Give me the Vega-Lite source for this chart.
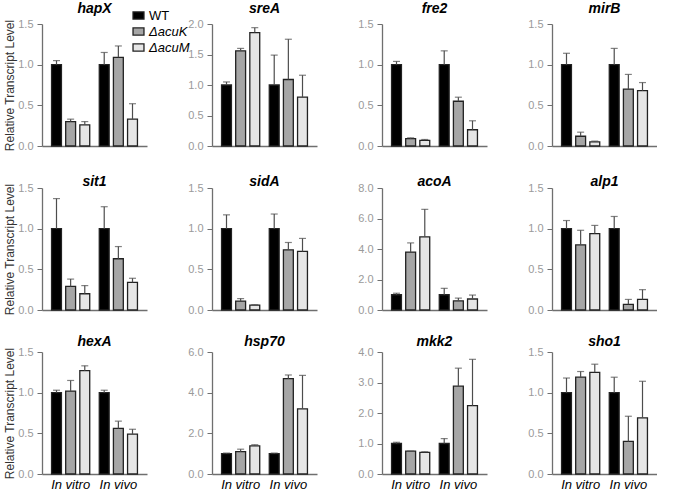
{
  "$schema": "https://vega.github.io/schema/vega-lite/v6.json",
  "padding": {"left": 3, "top": 2, "right": 0, "bottom": 0},
  "bounds": "flush",
  "spacing": {"row": 42, "column": 65},
  "columns": 4,
  "data": {"values": [
    {"gene": "hapX", "cond": "In vitro", "strain": "WT", "value": 1.0, "upper": 1.05},
    {"gene": "hapX", "cond": "In vitro", "strain": "ΔacuK", "value": 0.30, "upper": 0.33},
    {"gene": "hapX", "cond": "In vitro", "strain": "ΔacuM", "value": 0.26, "upper": 0.30},
    {"gene": "hapX", "cond": "In vivo", "strain": "WT", "value": 1.0, "upper": 1.15},
    {"gene": "hapX", "cond": "In vivo", "strain": "ΔacuK", "value": 1.09, "upper": 1.23},
    {"gene": "hapX", "cond": "In vivo", "strain": "ΔacuM", "value": 0.33, "upper": 0.52},
    {"gene": "sreA", "cond": "In vitro", "strain": "WT", "value": 1.0, "upper": 1.05},
    {"gene": "sreA", "cond": "In vitro", "strain": "ΔacuK", "value": 1.56, "upper": 1.60},
    {"gene": "sreA", "cond": "In vitro", "strain": "ΔacuM", "value": 1.86, "upper": 1.94},
    {"gene": "sreA", "cond": "In vivo", "strain": "WT", "value": 1.0, "upper": 1.49},
    {"gene": "sreA", "cond": "In vivo", "strain": "ΔacuK", "value": 1.09, "upper": 1.75},
    {"gene": "sreA", "cond": "In vivo", "strain": "ΔacuM", "value": 0.80, "upper": 1.16},
    {"gene": "fre2", "cond": "In vitro", "strain": "WT", "value": 1.0, "upper": 1.04},
    {"gene": "fre2", "cond": "In vitro", "strain": "ΔacuK", "value": 0.09, "upper": 0.10},
    {"gene": "fre2", "cond": "In vitro", "strain": "ΔacuM", "value": 0.07, "upper": 0.08},
    {"gene": "fre2", "cond": "In vivo", "strain": "WT", "value": 1.0, "upper": 1.17},
    {"gene": "fre2", "cond": "In vivo", "strain": "ΔacuK", "value": 0.55, "upper": 0.60},
    {"gene": "fre2", "cond": "In vivo", "strain": "ΔacuM", "value": 0.20, "upper": 0.31},
    {"gene": "mirB", "cond": "In vitro", "strain": "WT", "value": 1.0, "upper": 1.14},
    {"gene": "mirB", "cond": "In vitro", "strain": "ΔacuK", "value": 0.12, "upper": 0.17},
    {"gene": "mirB", "cond": "In vitro", "strain": "ΔacuM", "value": 0.05, "upper": 0.06},
    {"gene": "mirB", "cond": "In vivo", "strain": "WT", "value": 1.0, "upper": 1.20},
    {"gene": "mirB", "cond": "In vivo", "strain": "ΔacuK", "value": 0.70, "upper": 0.88},
    {"gene": "mirB", "cond": "In vivo", "strain": "ΔacuM", "value": 0.68, "upper": 0.78},
    {"gene": "sit1", "cond": "In vitro", "strain": "WT", "value": 1.0, "upper": 1.37},
    {"gene": "sit1", "cond": "In vitro", "strain": "ΔacuK", "value": 0.29, "upper": 0.38},
    {"gene": "sit1", "cond": "In vitro", "strain": "ΔacuM", "value": 0.20, "upper": 0.30},
    {"gene": "sit1", "cond": "In vivo", "strain": "WT", "value": 1.0, "upper": 1.27},
    {"gene": "sit1", "cond": "In vivo", "strain": "ΔacuK", "value": 0.63, "upper": 0.78},
    {"gene": "sit1", "cond": "In vivo", "strain": "ΔacuM", "value": 0.34, "upper": 0.39},
    {"gene": "sidA", "cond": "In vitro", "strain": "WT", "value": 1.0, "upper": 1.17},
    {"gene": "sidA", "cond": "In vitro", "strain": "ΔacuK", "value": 0.11, "upper": 0.14},
    {"gene": "sidA", "cond": "In vitro", "strain": "ΔacuM", "value": 0.06, "upper": 0.065},
    {"gene": "sidA", "cond": "In vivo", "strain": "WT", "value": 1.0, "upper": 1.18},
    {"gene": "sidA", "cond": "In vivo", "strain": "ΔacuK", "value": 0.74, "upper": 0.83},
    {"gene": "sidA", "cond": "In vivo", "strain": "ΔacuM", "value": 0.72, "upper": 0.88},
    {"gene": "acoA", "cond": "In vitro", "strain": "WT", "value": 1.0, "upper": 1.1},
    {"gene": "acoA", "cond": "In vitro", "strain": "ΔacuK", "value": 3.8, "upper": 4.4},
    {"gene": "acoA", "cond": "In vitro", "strain": "ΔacuM", "value": 4.8, "upper": 6.6},
    {"gene": "acoA", "cond": "In vivo", "strain": "WT", "value": 1.0, "upper": 1.42},
    {"gene": "acoA", "cond": "In vivo", "strain": "ΔacuK", "value": 0.6, "upper": 0.78},
    {"gene": "acoA", "cond": "In vivo", "strain": "ΔacuM", "value": 0.72, "upper": 0.98},
    {"gene": "alp1", "cond": "In vitro", "strain": "WT", "value": 1.0, "upper": 1.10},
    {"gene": "alp1", "cond": "In vitro", "strain": "ΔacuK", "value": 0.80, "upper": 0.98},
    {"gene": "alp1", "cond": "In vitro", "strain": "ΔacuM", "value": 0.94, "upper": 1.04},
    {"gene": "alp1", "cond": "In vivo", "strain": "WT", "value": 1.0, "upper": 1.15},
    {"gene": "alp1", "cond": "In vivo", "strain": "ΔacuK", "value": 0.07, "upper": 0.13},
    {"gene": "alp1", "cond": "In vivo", "strain": "ΔacuM", "value": 0.13, "upper": 0.25},
    {"gene": "hexA", "cond": "In vitro", "strain": "WT", "value": 1.0, "upper": 1.03},
    {"gene": "hexA", "cond": "In vitro", "strain": "ΔacuK", "value": 1.02, "upper": 1.15},
    {"gene": "hexA", "cond": "In vitro", "strain": "ΔacuM", "value": 1.27, "upper": 1.33},
    {"gene": "hexA", "cond": "In vivo", "strain": "WT", "value": 1.0, "upper": 1.03},
    {"gene": "hexA", "cond": "In vivo", "strain": "ΔacuK", "value": 0.56, "upper": 0.65},
    {"gene": "hexA", "cond": "In vivo", "strain": "ΔacuM", "value": 0.49, "upper": 0.55},
    {"gene": "hsp70", "cond": "In vitro", "strain": "WT", "value": 1.0, "upper": 1.03},
    {"gene": "hsp70", "cond": "In vitro", "strain": "ΔacuK", "value": 1.1, "upper": 1.22},
    {"gene": "hsp70", "cond": "In vitro", "strain": "ΔacuM", "value": 1.38, "upper": 1.44},
    {"gene": "hsp70", "cond": "In vivo", "strain": "WT", "value": 1.0, "upper": 1.03},
    {"gene": "hsp70", "cond": "In vivo", "strain": "ΔacuK", "value": 4.69, "upper": 4.87},
    {"gene": "hsp70", "cond": "In vivo", "strain": "ΔacuM", "value": 3.2, "upper": 4.85},
    {"gene": "mkk2", "cond": "In vitro", "strain": "WT", "value": 1.0, "upper": 1.04},
    {"gene": "mkk2", "cond": "In vitro", "strain": "ΔacuK", "value": 0.75, "upper": 0.75},
    {"gene": "mkk2", "cond": "In vitro", "strain": "ΔacuM", "value": 0.71, "upper": 0.73},
    {"gene": "mkk2", "cond": "In vivo", "strain": "WT", "value": 1.0, "upper": 1.16},
    {"gene": "mkk2", "cond": "In vivo", "strain": "ΔacuK", "value": 2.88, "upper": 3.47},
    {"gene": "mkk2", "cond": "In vivo", "strain": "ΔacuM", "value": 2.24, "upper": 3.76},
    {"gene": "sho1", "cond": "In vitro", "strain": "WT", "value": 1.0, "upper": 1.18},
    {"gene": "sho1", "cond": "In vitro", "strain": "ΔacuK", "value": 1.19, "upper": 1.26},
    {"gene": "sho1", "cond": "In vitro", "strain": "ΔacuM", "value": 1.25, "upper": 1.35},
    {"gene": "sho1", "cond": "In vivo", "strain": "WT", "value": 1.0, "upper": 1.19},
    {"gene": "sho1", "cond": "In vivo", "strain": "ΔacuK", "value": 0.40, "upper": 0.71},
    {"gene": "sho1", "cond": "In vivo", "strain": "ΔacuM", "value": 0.69, "upper": 1.14}
  ]},
  "config": {
    "view": {"stroke": null},
    "font": "Liberation Sans",
    "range": {"category": ["#000000", "#a6a6a6", "#e6e6e6"]},
    "scale": {"bandPaddingInner": 0.26, "bandPaddingOuter": 0.03, "offsetBandPaddingInner": 0.3, "offsetBandPaddingOuter": 0},
    "title": {"fontSize": 14, "fontStyle": "italic", "fontWeight": "bold", "color": "#000000"},
    "bar": {"stroke": "#222222", "strokeWidth": 1.3},
    "rule": {"color": "#4d4d4d", "strokeWidth": 1.2},
    "tick": {"color": "#4d4d4d", "thickness": 1.2, "size": 7},
    "axis": {"grid": false, "domainColor": "#6f6f6f", "tickColor": "#6f6f6f", "domainWidth": 1.3},
    "axisX": {"ticks": false, "labelAngle": 0},
    "axisY": {"format": ".1f", "tickSize": 5, "labelPadding": 4, "labelColor": "#9a9a9a", "labelFontSize": 11, "titleFontSize": 12, "titleFontWeight": "normal", "titleColor": "#333333", "titlePadding": 1},
    "legend": {"orient": "none", "legendX": 90, "legendY": -15, "title": null, "symbolType": "M-1,-0.65H1V0.65H-1Z", "symbolSize": 120, "symbolStrokeColor": "#222222", "symbolStrokeWidth": 1.3, "symbolOpacity": 1, "labelFontSize": 13, "labelColor": "#000000", "labelOffset": 4, "rowPadding": 2}
  },
  "concat": [
    {"title": {"text": "hapX", "offset": 2}, "width": 105, "height": 122,
     "transform": [{"filter": "datum.gene === 'hapX'"}],
     "encoding": {"x": {"field": "cond", "type": "nominal", "axis": {"title": null, "labels": false}},
                  "xOffset": {"field": "strain", "type": "nominal", "sort": ["WT", "ΔacuK", "ΔacuM"]},
                  "y": {"field": "value", "type": "quantitative", "scale": {"domain": [0, 1.5]}, "axis": {"values": [0, 0.5, 1, 1.5], "title": "Relative Transcript Level"}}},
     "layer": [
       {"mark": "bar", "encoding": {"color": {"field": "strain", "type": "nominal", "sort": ["WT", "ΔacuK", "ΔacuM"],
           "legend": {"orient": "none", "legendX": 90, "legendY": -15, "title": null, "labelFontStyle": {"expr": "datum.label === 'WT' ? 'normal' : 'italic'"}}}}},
       {"mark": "rule", "encoding": {"y2": {"field": "upper"}}},
       {"mark": "tick", "encoding": {"y": {"field": "upper", "type": "quantitative", "axis": {"values": [0, 0.5, 1, 1.5], "title": "Relative Transcript Level"}}}}
     ]},
    {"title": {"text": "sreA", "offset": 2}, "width": 105, "height": 122,
     "transform": [{"filter": "datum.gene === 'sreA'"}],
     "encoding": {"x": {"field": "cond", "type": "nominal", "axis": {"title": null, "labels": false}},
                  "xOffset": {"field": "strain", "type": "nominal", "sort": ["WT", "ΔacuK", "ΔacuM"]},
                  "y": {"field": "value", "type": "quantitative", "scale": {"domain": [0, 2]}, "axis": {"values": [0, 0.5, 1, 1.5, 2], "title": null}}},
     "layer": [
       {"mark": "bar", "encoding": {"color": {"field": "strain", "type": "nominal", "sort": ["WT", "ΔacuK", "ΔacuM"]}}},
       {"mark": "rule", "encoding": {"y2": {"field": "upper"}}},
       {"mark": "tick", "encoding": {"y": {"field": "upper", "type": "quantitative", "axis": {"values": [0, 0.5, 1, 1.5, 2], "title": null}}}}
     ]},
    {"title": {"text": "fre2", "offset": 2}, "width": 105, "height": 122,
     "transform": [{"filter": "datum.gene === 'fre2'"}],
     "encoding": {"x": {"field": "cond", "type": "nominal", "axis": {"title": null, "labels": false}},
                  "xOffset": {"field": "strain", "type": "nominal", "sort": ["WT", "ΔacuK", "ΔacuM"]},
                  "y": {"field": "value", "type": "quantitative", "scale": {"domain": [0, 1.5]}, "axis": {"values": [0, 0.5, 1, 1.5], "title": null}}},
     "layer": [
       {"mark": "bar", "encoding": {"color": {"field": "strain", "type": "nominal", "sort": ["WT", "ΔacuK", "ΔacuM"]}}},
       {"mark": "rule", "encoding": {"y2": {"field": "upper"}}},
       {"mark": "tick", "encoding": {"y": {"field": "upper", "type": "quantitative", "axis": {"values": [0, 0.5, 1, 1.5], "title": null}}}}
     ]},
    {"title": {"text": "mirB", "offset": 2}, "width": 105, "height": 122,
     "transform": [{"filter": "datum.gene === 'mirB'"}],
     "encoding": {"x": {"field": "cond", "type": "nominal", "axis": {"title": null, "labels": false}},
                  "xOffset": {"field": "strain", "type": "nominal", "sort": ["WT", "ΔacuK", "ΔacuM"]},
                  "y": {"field": "value", "type": "quantitative", "scale": {"domain": [0, 1.5]}, "axis": {"values": [0, 0.5, 1, 1.5], "title": null}}},
     "layer": [
       {"mark": "bar", "encoding": {"color": {"field": "strain", "type": "nominal", "sort": ["WT", "ΔacuK", "ΔacuM"]}}},
       {"mark": "rule", "encoding": {"y2": {"field": "upper"}}},
       {"mark": "tick", "encoding": {"y": {"field": "upper", "type": "quantitative", "axis": {"values": [0, 0.5, 1, 1.5], "title": null}}}}
     ]},
    {"title": {"text": "sit1", "offset": -7}, "width": 105, "height": 122,
     "transform": [{"filter": "datum.gene === 'sit1'"}],
     "encoding": {"x": {"field": "cond", "type": "nominal", "axis": {"title": null, "labels": false}},
                  "xOffset": {"field": "strain", "type": "nominal", "sort": ["WT", "ΔacuK", "ΔacuM"]},
                  "y": {"field": "value", "type": "quantitative", "scale": {"domain": [0, 1.5]}, "axis": {"values": [0, 0.5, 1, 1.5], "title": "Relative Transcript Level"}}},
     "layer": [
       {"mark": "bar", "encoding": {"color": {"field": "strain", "type": "nominal", "sort": ["WT", "ΔacuK", "ΔacuM"]}}},
       {"mark": "rule", "encoding": {"y2": {"field": "upper"}}},
       {"mark": "tick", "encoding": {"y": {"field": "upper", "type": "quantitative", "axis": {"values": [0, 0.5, 1, 1.5], "title": "Relative Transcript Level"}}}}
     ]},
    {"title": {"text": "sidA", "offset": -7}, "width": 105, "height": 122,
     "transform": [{"filter": "datum.gene === 'sidA'"}],
     "encoding": {"x": {"field": "cond", "type": "nominal", "axis": {"title": null, "labels": false}},
                  "xOffset": {"field": "strain", "type": "nominal", "sort": ["WT", "ΔacuK", "ΔacuM"]},
                  "y": {"field": "value", "type": "quantitative", "scale": {"domain": [0, 1.5]}, "axis": {"values": [0, 0.5, 1, 1.5], "title": null}}},
     "layer": [
       {"mark": "bar", "encoding": {"color": {"field": "strain", "type": "nominal", "sort": ["WT", "ΔacuK", "ΔacuM"]}}},
       {"mark": "rule", "encoding": {"y2": {"field": "upper"}}},
       {"mark": "tick", "encoding": {"y": {"field": "upper", "type": "quantitative", "axis": {"values": [0, 0.5, 1, 1.5], "title": null}}}}
     ]},
    {"title": {"text": "acoA", "offset": -7}, "width": 105, "height": 122,
     "transform": [{"filter": "datum.gene === 'acoA'"}],
     "encoding": {"x": {"field": "cond", "type": "nominal", "axis": {"title": null, "labels": false}},
                  "xOffset": {"field": "strain", "type": "nominal", "sort": ["WT", "ΔacuK", "ΔacuM"]},
                  "y": {"field": "value", "type": "quantitative", "scale": {"domain": [0, 8]}, "axis": {"values": [0, 2, 4, 6, 8], "title": null}}},
     "layer": [
       {"mark": "bar", "encoding": {"color": {"field": "strain", "type": "nominal", "sort": ["WT", "ΔacuK", "ΔacuM"]}}},
       {"mark": "rule", "encoding": {"y2": {"field": "upper"}}},
       {"mark": "tick", "encoding": {"y": {"field": "upper", "type": "quantitative", "axis": {"values": [0, 2, 4, 6, 8], "title": null}}}}
     ]},
    {"title": {"text": "alp1", "offset": -7}, "width": 105, "height": 122,
     "transform": [{"filter": "datum.gene === 'alp1'"}],
     "encoding": {"x": {"field": "cond", "type": "nominal", "axis": {"title": null, "labels": false}},
                  "xOffset": {"field": "strain", "type": "nominal", "sort": ["WT", "ΔacuK", "ΔacuM"]},
                  "y": {"field": "value", "type": "quantitative", "scale": {"domain": [0, 1.5]}, "axis": {"values": [0, 0.5, 1, 1.5], "title": null}}},
     "layer": [
       {"mark": "bar", "encoding": {"color": {"field": "strain", "type": "nominal", "sort": ["WT", "ΔacuK", "ΔacuM"]}}},
       {"mark": "rule", "encoding": {"y2": {"field": "upper"}}},
       {"mark": "tick", "encoding": {"y": {"field": "upper", "type": "quantitative", "axis": {"values": [0, 0.5, 1, 1.5], "title": null}}}}
     ]},
    {"title": {"text": "hexA", "offset": -3}, "width": 105, "height": 122,
     "transform": [{"filter": "datum.gene === 'hexA'"}],
     "encoding": {"x": {"field": "cond", "type": "nominal", "axis": {"title": null, "labelFontStyle": "italic", "labelFontSize": 13, "labelColor": "#000000", "labelPadding": 4}},
                  "xOffset": {"field": "strain", "type": "nominal", "sort": ["WT", "ΔacuK", "ΔacuM"]},
                  "y": {"field": "value", "type": "quantitative", "scale": {"domain": [0, 1.5]}, "axis": {"values": [0, 0.5, 1, 1.5], "title": "Relative Transcript Level"}}},
     "layer": [
       {"mark": "bar", "encoding": {"color": {"field": "strain", "type": "nominal", "sort": ["WT", "ΔacuK", "ΔacuM"]}}},
       {"mark": "rule", "encoding": {"y2": {"field": "upper"}}},
       {"mark": "tick", "encoding": {"y": {"field": "upper", "type": "quantitative", "axis": {"values": [0, 0.5, 1, 1.5], "title": "Relative Transcript Level"}}}}
     ]},
    {"title": {"text": "hsp70", "offset": -3}, "width": 105, "height": 122,
     "transform": [{"filter": "datum.gene === 'hsp70'"}],
     "encoding": {"x": {"field": "cond", "type": "nominal", "axis": {"title": null, "labelFontStyle": "italic", "labelFontSize": 13, "labelColor": "#000000", "labelPadding": 4}},
                  "xOffset": {"field": "strain", "type": "nominal", "sort": ["WT", "ΔacuK", "ΔacuM"]},
                  "y": {"field": "value", "type": "quantitative", "scale": {"domain": [0, 6]}, "axis": {"values": [0, 2, 4, 6], "title": null}}},
     "layer": [
       {"mark": "bar", "encoding": {"color": {"field": "strain", "type": "nominal", "sort": ["WT", "ΔacuK", "ΔacuM"]}}},
       {"mark": "rule", "encoding": {"y2": {"field": "upper"}}},
       {"mark": "tick", "encoding": {"y": {"field": "upper", "type": "quantitative", "axis": {"values": [0, 2, 4, 6], "title": null}}}}
     ]},
    {"title": {"text": "mkk2", "offset": -3}, "width": 105, "height": 122,
     "transform": [{"filter": "datum.gene === 'mkk2'"}],
     "encoding": {"x": {"field": "cond", "type": "nominal", "axis": {"title": null, "labelFontStyle": "italic", "labelFontSize": 13, "labelColor": "#000000", "labelPadding": 4}},
                  "xOffset": {"field": "strain", "type": "nominal", "sort": ["WT", "ΔacuK", "ΔacuM"]},
                  "y": {"field": "value", "type": "quantitative", "scale": {"domain": [0, 4]}, "axis": {"values": [0, 1, 2, 3, 4], "title": null}}},
     "layer": [
       {"mark": "bar", "encoding": {"color": {"field": "strain", "type": "nominal", "sort": ["WT", "ΔacuK", "ΔacuM"]}}},
       {"mark": "rule", "encoding": {"y2": {"field": "upper"}}},
       {"mark": "tick", "encoding": {"y": {"field": "upper", "type": "quantitative", "axis": {"values": [0, 1, 2, 3, 4], "title": null}}}}
     ]},
    {"title": {"text": "sho1", "offset": -3}, "width": 105, "height": 122,
     "transform": [{"filter": "datum.gene === 'sho1'"}],
     "encoding": {"x": {"field": "cond", "type": "nominal", "axis": {"title": null, "labelFontStyle": "italic", "labelFontSize": 13, "labelColor": "#000000", "labelPadding": 4}},
                  "xOffset": {"field": "strain", "type": "nominal", "sort": ["WT", "ΔacuK", "ΔacuM"]},
                  "y": {"field": "value", "type": "quantitative", "scale": {"domain": [0, 1.5]}, "axis": {"values": [0, 0.5, 1, 1.5], "title": null}}},
     "layer": [
       {"mark": "bar", "encoding": {"color": {"field": "strain", "type": "nominal", "sort": ["WT", "ΔacuK", "ΔacuM"]}}},
       {"mark": "rule", "encoding": {"y2": {"field": "upper"}}},
       {"mark": "tick", "encoding": {"y": {"field": "upper", "type": "quantitative", "axis": {"values": [0, 0.5, 1, 1.5], "title": null}}}}
     ]}
  ]
}
